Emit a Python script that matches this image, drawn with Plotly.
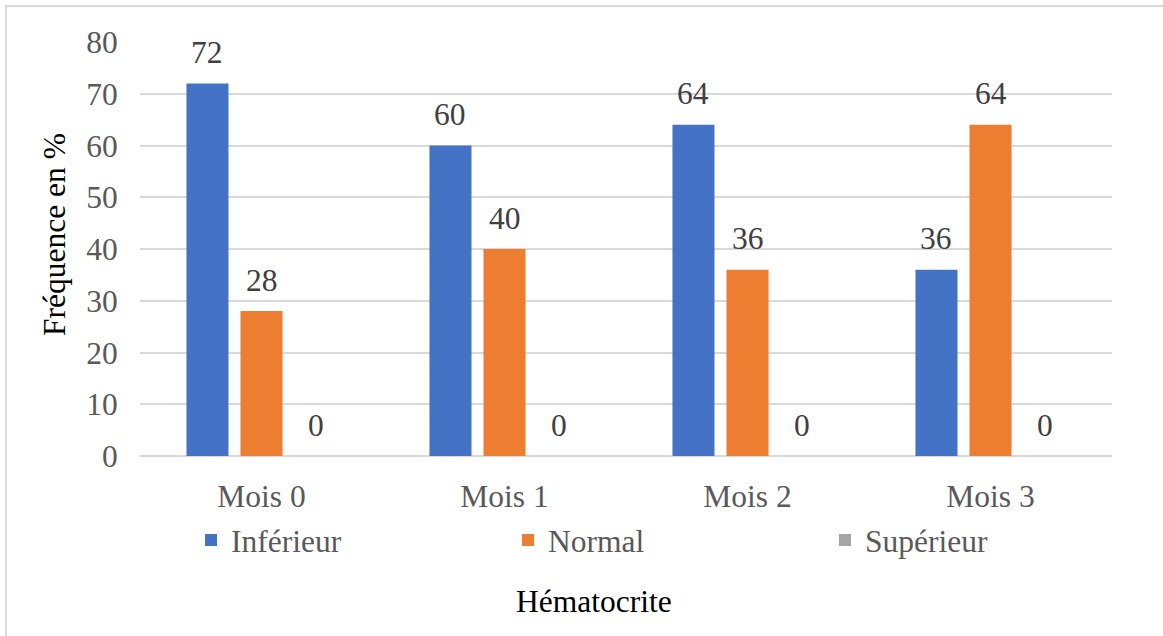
import plotly.graph_objects as go

categories = ["Mois 0", "Mois 1", "Mois 2", "Mois 3"]
inferieur = [72, 60, 64, 36]
normal = [28, 40, 36, 64]
superieur = [0, 0, 0, 0]
series_names = ["Inférieur", "Normal", "Supérieur"]
colors = ["#4472C4", "#ED7D31", "#A5A5A5"]
y_ticks = [0, 10, 20, 30, 40, 50, 60, 70, 80]

FONT = "Liberation Serif"
FS = 31.5
W, H = 1163, 636
L, R, T, B = 140, 51, 42, 180
pw, ph = W - L - R, H - T - B

fig = go.Figure()
series = [inferieur, normal, superieur]
for name, vals, col in zip(series_names, series, colors):
    fig.add_trace(go.Bar(x=categories, y=vals, name=name, marker=dict(color=col, line=dict(width=0))))

# data labels via annotations, offset per series
slot = pw / len(categories) * (1 - 0.333) / 3
for i, vals in enumerate(series):
    for c, v in zip(categories, vals):
        fig.add_annotation(x=c, y=v, xref="x", yref="y", text=str(v), showarrow=False,
                           xshift=(i - 1) * slot, yshift=31, xanchor="center", yanchor="middle",
                           font=dict(family=FONT, size=FS, color="#404040"))

fig.add_annotation(x=(55 - L) / pw, y=(T + ph - 235) / ph, xref="paper", yref="paper",
                   text="Fréquence en %", textangle=-90, showarrow=False,
                   xanchor="center", yanchor="middle",
                   font=dict(family=FONT, size=FS, color="#000000"))
fig.add_annotation(x=(594 - L) / pw, y=(T + ph - 601) / ph, xref="paper", yref="paper",
                   text="Hématocrite", showarrow=False, xanchor="center", yanchor="middle",
                   font=dict(family=FONT, size=FS, color="#000000"))

fig.add_shape(type="rect", xref="paper", yref="paper",
              x0=(6 - L) / pw, x1=(1175 - L) / pw,
              y0=(T + ph - 650) / ph, y1=(T + ph - 6) / ph,
              line=dict(color="#D9D9D9", width=2), fillcolor="rgba(0,0,0,0)", layer="below")

fig.update_layout(
    width=W, height=H,
    margin=dict(l=L, r=R, t=T, b=B, autoexpand=False),
    paper_bgcolor="white", plot_bgcolor="white",
    barmode="group", bargap=0.333, bargroupgap=0.222,
    font=dict(family=FONT, size=FS, color="#595959"),
    legend=dict(orientation="h", x=(191 - L) / pw, xanchor="left",
                y=(T + ph - 540) / ph, yanchor="middle",
                entrywidth=272, entrywidthmode="pixels",
                font=dict(family=FONT, size=FS, color="#595959"),
                bgcolor="rgba(0,0,0,0)"),
    showlegend=True,
)
fig.update_xaxes(showgrid=False, showline=False, ticks="outside", ticklen=12,
                 tickcolor="rgba(0,0,0,0)", tickfont=dict(family=FONT, size=FS, color="#595959"))
fig.update_yaxes(range=[0, 80], tickvals=y_ticks, showgrid=True, gridcolor="#D9D9D9", gridwidth=1.5,
                 zeroline=True, zerolinecolor="#D9D9D9", zerolinewidth=1.5,
                 showline=False, ticks="outside", ticklen=15, tickcolor="rgba(0,0,0,0)",
                 tickfont=dict(family=FONT, size=FS, color="#595959"))

fig.write_html("out.html", config={"displayModeBar": False},
               post_script="document.body.style.margin='0';")
